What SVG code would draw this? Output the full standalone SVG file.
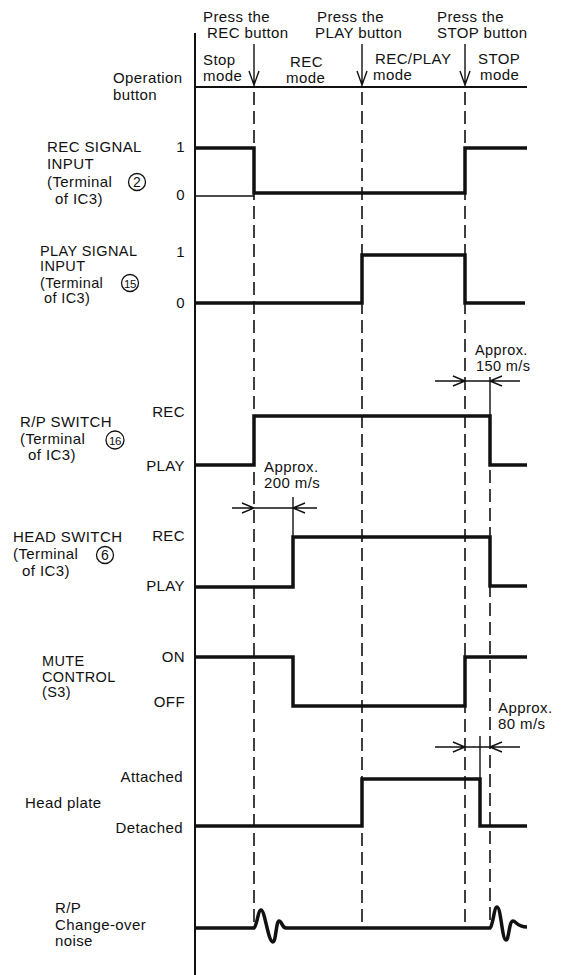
<svg xmlns="http://www.w3.org/2000/svg" width="567" height="975" viewBox="0 0 567 975">
<style>
text{font-family:"Liberation Sans",Arial,sans-serif;font-size:15px;fill:#111;letter-spacing:0.4px}
.r{text-anchor:end}
.ax{stroke:#111;stroke-width:2;fill:none}
.w{stroke:#111;stroke-width:3.5;fill:none;stroke-linejoin:miter}
.d{stroke:#111;stroke-width:1.6;fill:none;stroke-dasharray:13 6}
.thin{stroke:#111;stroke-width:1.4;fill:none}
.c{fill:none;stroke:#111;stroke-width:1.3}
.cn{text-anchor:middle;font-size:14px;letter-spacing:0}
.cn2{text-anchor:middle;font-size:11.5px;letter-spacing:-0.3px}
.tight{font-size:14.5px}
</style>
<g id="connectors">
<line class="ax" x1="195" y1="33" x2="195" y2="975"/>
<line class="ax" x1="195" y1="87" x2="527" y2="87"/>
<line class="d" x1="254" y1="92" x2="254" y2="928"/>
<line class="d" x1="362" y1="92" x2="362" y2="928"/>
<line class="d" x1="465" y1="92" x2="465" y2="928"/>
<line class="d" x1="490" y1="470" x2="490" y2="928"/>
</g>
<g id="header">
<text x="203" y="22">Press the</text>
<text x="207" y="38">REC button</text>
<text x="317" y="22">Press the</text>
<text x="315" y="38">PLAY button</text>
<text x="437" y="22">Press the</text>
<text x="437" y="38">STOP button</text>
<text x="203" y="65">Stop</text>
<text x="203" y="81">mode</text>
<text x="290" y="67">REC</text>
<text x="286" y="83">mode</text>
<text x="375" y="64">REC/PLAY</text>
<text x="373" y="80">mode</text>
<text x="478" y="64">STOP</text>
<text x="480" y="80">mode</text>
<path class="thin" d="M254,44V87M249,71L254,85L259,71M362,44V87M357,71L362,85L367,71M465,44V87M460,71L465,85L470,71" stroke-width="1.8"/>
<text x="113" y="83">Operation</text>
<text x="113" y="100">button</text>
</g>
<g id="rec-signal">
<text x="47" y="152">REC SIGNAL</text>
<text x="47" y="169">INPUT</text>
<text x="47" y="187">(Terminal</text>
<circle class="c" cx="137" cy="182" r="8.5"/>
<text class="cn" x="137" y="187">2</text>
<text x="55" y="204">of IC3)</text>
<text class="r" x="185" y="152">1</text>
<text class="r" x="185" y="200">0</text>
<line class="thin" x1="195" y1="196" x2="254" y2="196"/>
<path class="w" d="M195,148H254V193H465V148H527"/>
</g>
<g id="play-signal">
<text class="tight" x="40" y="256">PLAY SIGNAL</text>
<text class="tight" x="40" y="271">INPUT</text>
<text class="tight" x="40" y="288">(Terminal</text>
<circle class="c" cx="130" cy="283" r="8.5"/>
<text class="cn2" x="130" y="287.5">15</text>
<text class="tight" x="44" y="303">of IC3)</text>
<text class="r" x="185" y="257">1</text>
<text class="r" x="185" y="308">0</text>
<path class="w" d="M195,303H362V255H465V303H525"/>
</g>
<g id="rp-switch">
<text x="20" y="427">R/P SWITCH</text>
<text x="20" y="444">(Terminal</text>
<circle class="c" cx="115" cy="440" r="9"/>
<text class="cn2" x="115" y="444.5">16</text>
<text x="28" y="460">of IC3)</text>
<text class="r" x="185" y="417">REC</text>
<text class="r" x="185" y="471">PLAY</text>
<path class="w" d="M195,465H254V416H490V465H527"/>
<text class="tight" x="475" y="355">Approx.</text>
<text class="tight" x="476" y="371">150 m/s</text>
<path class="thin" d="M435,381H520M453,376L465,381L453,386M502,376L490,381L502,386M490,377V416"/>
</g>
<g id="head-switch">
<text x="13" y="542">HEAD SWITCH</text>
<text x="13" y="559">(Terminal</text>
<circle class="c" cx="105" cy="555" r="8.5"/>
<text class="cn" x="105" y="560">6</text>
<text x="22" y="576">of IC3)</text>
<text class="r" x="185" y="541">REC</text>
<text class="r" x="185" y="591">PLAY</text>
<path class="w" d="M195,587H293V537H490V586H527"/>
<text x="264" y="472">Approx.</text>
<text x="264" y="488">200 m/s</text>
<path class="thin" d="M232,508H317M242,503L254,508L242,513M305,503L293,508L305,513M293,497V537"/>
</g>
<g id="mute-control">
<text class="tight" x="42" y="666">MUTE</text>
<text class="tight" x="42" y="682">CONTROL</text>
<text class="tight" x="42" y="697">(S3)</text>
<text class="r" x="185" y="662">ON</text>
<text class="r" x="185" y="707">OFF</text>
<path class="w" d="M195,657H293V706H465V657H527"/>
<text x="498" y="713">Approx.</text>
<text x="498" y="729">80 m/s</text>
<path class="thin" d="M435,747H520M453,742L465,747L453,752M502,742L490,747L502,752M480,736V779"/>
</g>
<g id="head-plate">
<text class="r" x="183" y="782">Attached</text>
<text x="25" y="808">Head plate</text>
<text class="r" x="183" y="833">Detached</text>
<path class="w" d="M195,826H362V779H480V826H527"/>
</g>
<g id="noise">
<text x="55" y="913">R/P</text>
<text x="55" y="930">Change-over</text>
<text x="55" y="946">noise</text>
<path class="w" d="M195,928H254C257,926 258,910 261,910C265,910 268,942 273,942C276,942 276,921 279,921C282,921 282,928 286,928H490C493,926 494,907 497,907C501,907 502,940 506,940C509,940 509,921 513,921C516,921 517,927 527,927"/>
</g>
</svg>
